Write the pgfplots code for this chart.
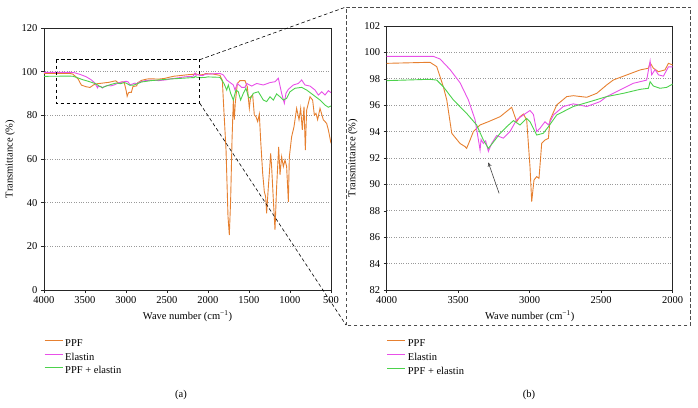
\documentclass[border=0pt]{standalone}
\usepackage{pgfplots}
\pgfplotsset{compat=1.18}
\usepackage{pgfplotstable}
\usepackage{fontspec}
\setmainfont{Liberation Serif}
\usetikzlibrary{arrows.meta}
\definecolor{ppfcol}{RGB}{230,128,48}
\definecolor{elacol}{RGB}{232,80,232}
\definecolor{mixcol}{RGB}{76,210,76}

\pgfplotstableread{
x y
4000 99.17
3697 99.25
3650 98.92
3604 97.4
3580 96.4
3545 93.87
3487 93.1
3452 92.86
3441 92.73
3417 93.36
3394 94.0
3347 94.5
3289 94.75
3207 95.13
3126 95.84
3091 94.75
3068 95.13
3044 95.33
3021 94.88
2998 91.34
2986 88.69
2970 90.33
2951 90.59
2935 90.46
2916 93.11
2893 93.36
2869 93.49
2858 94.88
2811 96.02
2741 96.65
2695 96.72
2601 96.6
2531 96.9
2462 97.53
2415 97.91
2322 98.29
2228 98.67
2170 98.8
2158 99.22
2135 98.8
2100 98.54
2054 98.67
2030 99.17
2000 99.05
1935 98.9
1854 98.3
1825 96
1813 87
1780 64
1756 33.6
1740 25.2
1724 41
1707 68.7
1691 87
1679 78
1667 85.8
1642 94.6
1610 95.9
1549 95.9
1520 93
1496 83.2
1480 88.5
1455 89.3
1435 80.1
1415 79.4
1394 77.1
1374 80.6
1358 68.7
1333 53.4
1313 45
1297 42.7
1285 35.1
1264 47.3
1252 53.4
1236 62.6
1224 56.5
1203 41.2
1183 27.5
1163 47.3
1138 65.6
1122 52.7
1102 61
1081 56.5
1061 59.5
1041 56.5
1020 40.4
1008 61
980 70.2
951 74.8
919 83.2
890 78
870 83.2
850 73.3
829 84
813 64.1
797 82.4
756 88.5
724 87
703 80.1
683 80.9
663 78
634 83.2
594 78
553 76.3
532 73.3
500 67.2
}\ppftab

\pgfplotstableread{
x y
4000 99.7
3674 99.7
3627 99.5
3557 98.7
3487 97.7
3429 96.4
3382 94.9
3359 93.4
3347 92.6
3340 93.4
3324 93.1
3308 93.3
3289 92.5
3266 93.1
3231 93.7
3184 93.5
3138 94.0
3091 94.9
3044 95.26
2998 95.6
2974 95.3
2951 94.0
2928 94.25
2893 94.75
2869 94.5
2834 95.26
2765 95.9
2695 96.1
2601 95.9
2508 96.27
2462 96.65
2345 97.28
2275 97.66
2182 97.9
2158 99.35
2147 98.3
2123 98.7
2100 98.3
2065 98.2
2030 98.9
2000 98.9
1854 99.2
1813 98.5
1772 96.2
1691 93.9
1671 91.6
1642 94.6
1589 92.8
1549 92.8
1528 94.6
1467 93.4
1407 94.6
1325 93.9
1244 95
1183 95.4
1142 97
1102 90.1
1069 85.5
1049 90.1
1020 91.9
960 93.9
898 94.6
858 96.2
817 93.9
756 93.4
695 91.6
654 89.3
614 90.8
573 89.3
532 91.3
500 90.4
}\elatab

\pgfplotstableread{
x y
4000 97.86
3697 97.96
3650 97.9
3604 97.4
3534 96.4
3441 95.38
3371 94.5
3324 93.36
3289 92.73
3254 93.2
3207 93.87
3161 94.37
3114 94.83
3068 94.5
3021 95.0
2998 94.75
2951 93.74
2905 93.87
2869 94.37
2811 95.26
2695 95.9
2578 96.27
2462 96.65
2345 96.9
2228 97.2
2170 97.28
2158 97.78
2135 97.45
2089 97.28
2042 97.35
2000 97.6
1854 97.4
1805 94.6
1772 91.6
1752 93.9
1724 90.1
1691 87
1659 91.6
1630 90.8
1602 87
1569 90.1
1537 92.4
1508 88.5
1480 87.8
1447 90.1
1386 90.8
1325 87
1285 86.3
1244 88.5
1203 87
1163 89.8
1122 88.5
1081 87
1041 87.8
1000 90.8
939 92.4
858 92.8
797 91.6
716 89.3
634 87
573 84.7
532 83.7
500 84.3
}\mixtab

\pgfplotsset{
  common/.style={
    anchor=south west, scale only axis,
    x dir=reverse,
    tick pos=left, tick align=outside, major tick length=3pt,
    axis line style={black!85, line width=0.6pt},
    tick style={black!85, line width=0.5pt},
    ymajorgrids, grid style={dotted, line width=0.6pt, gray!80},
    /pgf/number format/assume math mode=true,
    /pgf/number format/1000 sep={},
    tick label style={font=\fontsize{10.5}{12.5}\selectfont},
    label style={font=\fontsize{10.5}{12.5}\selectfont},
    xlabel={Wave number (cm\textsuperscript{−1})},
    ylabel={Transmittance (\%)},
    legend style={at={(0,-0.18)}, anchor=north west, draw=none, fill=none,
      font=\fontsize{10.5}{12.5}\selectfont, inner sep=0pt, row sep=1pt},
    legend cell align=left,
    legend image code/.code={\draw[#1, line width=1pt] (0pt,3pt) -- (18pt,3pt);},
    every axis plot/.append style={line width=0.9pt},
  }
}

\begin{document}
\begin{tikzpicture}
\useasboundingbox (0,0) rectangle (698pt,407pt);
\begin{axis}[common, at={(44pt,117pt)}, width=287pt, height=262pt,
  xmin=500, xmax=4000, ymin=0, ymax=120,
  xtick={500,1000,...,4000}, ytick={0,20,...,120}]
  \addplot[color=ppfcol, no marks] table[x=x,y=y] {\ppftab};
  \addlegendentry{PPF}
  \addplot[color=elacol, no marks] table[x=x,y=y] {\elatab};
  \addlegendentry{Elastin}
  \addplot[color=mixcol, no marks] table[x=x,y=y] {\mixtab};
  \addlegendentry{PPF + elastin}
  \draw[black, line width=0.6pt, dash pattern=on 3.5pt off 2.5pt] (axis cs:3850,105.5) rectangle (axis cs:2100,85.5);
  \coordinate (ltr) at (axis cs:2100,105.5);
  \coordinate (lbr) at (axis cs:2100,85.5);
\end{axis}
\begin{axis}[common, at={(386.7pt,117pt)}, width=286pt, height=264pt,
  xmin=2000, xmax=4000, ymin=82, ymax=102,
  xtick={2000,2500,...,4000}, ytick={82,84,...,102}]
  \addplot[color=ppfcol, no marks] table[x=x,y=y] {\ppftab};
  \addlegendentry{PPF}
  \addplot[color=elacol, no marks] table[x=x,y=y] {\elatab};
  \addlegendentry{Elastin}
  \addplot[color=mixcol, no marks] table[x=x,y=y] {\mixtab};
  \addlegendentry{PPF + elastin}
  \draw[-{To[length=4pt,width=4pt]}, black!75, line width=0.6pt] (axis cs:3214,89.32) -- (axis cs:3289,91.65);
\end{axis}
\draw[black, line width=0.6pt, dash pattern=on 3.5pt off 2.5pt] (ltr) -- (346pt,400pt);
\draw[black, line width=0.6pt, dash pattern=on 3.5pt off 2.5pt] (lbr) -- (346pt,82pt);
\draw[black!70, line width=0.6pt, dash pattern=on 3.5pt off 2.5pt] (346pt,82pt) rectangle (690.7pt,400pt);
\node[font=\fontsize{10.5}{12.5}\selectfont] at (181pt,12pt) {(a)};
\node[font=\fontsize{10.5}{12.5}\selectfont] at (529pt,12pt) {(b)};
\end{tikzpicture}
\end{document}
